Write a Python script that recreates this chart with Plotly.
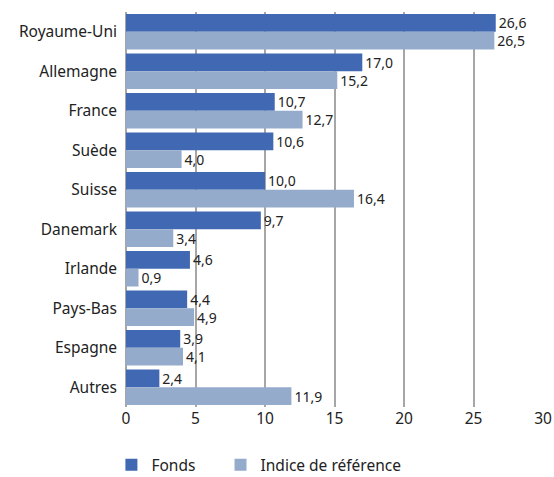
import plotly.graph_objects as go

categories = ["Royaume-Uni", "Allemagne", "France", "Suède", "Suisse",
              "Danemark", "Irlande", "Pays-Bas", "Espagne", "Autres"]
fonds = [26.6, 17.0, 10.7, 10.6, 10.0, 9.7, 4.6, 4.4, 3.9, 2.4]
indice = [26.5, 15.2, 12.7, 4.0, 16.4, 3.4, 0.9, 4.9, 4.1, 11.9]
tick_vals = [0, 5, 10, 15, 20, 25, 30]
series_names = ["Fonds", "Indice de référence"]

def fmt(v):
    return f"{v:.1f}".replace(".", ",")

FONT = "Noto Sans"
FS = 15.5
LFS = 14
PAD = "\u00a0" * 5  # widen the first legend entry

fig = go.Figure()
fig.add_trace(go.Bar(
    y=categories, x=fonds, orientation="h", name=series_names[0] + PAD,
    marker=dict(color="#4168B3", line=dict(width=0)),
    text=[fmt(v) for v in fonds], textposition="outside", constraintext="none",
    textfont=dict(size=LFS, color="#222222", family=FONT),
    cliponaxis=False,
))
fig.add_trace(go.Bar(
    y=categories, x=indice, orientation="h", name=series_names[1],
    marker=dict(color="#95ABCC", line=dict(width=0)),
    text=[fmt(v) for v in indice], textposition="outside", constraintext="none",
    textfont=dict(size=LFS, color="#222222", family=FONT),
    cliponaxis=False,
))

fig.update_layout(
    width=554, height=477,
    margin=dict(l=126, r=11, t=12, b=70, autoexpand=False),
    barmode="group", bargap=0.1, bargroupgap=0,
    plot_bgcolor="white", paper_bgcolor="white",
    font=dict(family=FONT, size=FS, color="#222222"),
    showlegend=True,
    legend=dict(orientation="h", x=-0.035, xanchor="left", y=-0.147, yanchor="middle",
                font=dict(size=FS), traceorder="normal"),
    xaxis=dict(range=[0, 30], tickvals=tick_vals, ticktext=[str(t) for t in tick_vals],
               showgrid=True, gridcolor="#A6A6A6", gridwidth=2,
               zeroline=True, zerolinecolor="#A6A6A6", zerolinewidth=2,
               showline=False, ticks="", tickfont=dict(size=FS), automargin=False),
    yaxis=dict(autorange="reversed", showgrid=False, ticks="", showline=False,
               tickfont=dict(size=FS), ticklabelstandoff=8, automargin=False),
)

fig.write_html("out.html", config={"displayModeBar": False},
               post_script="document.body.style.margin='0px';document.body.style.overflow='hidden';")
